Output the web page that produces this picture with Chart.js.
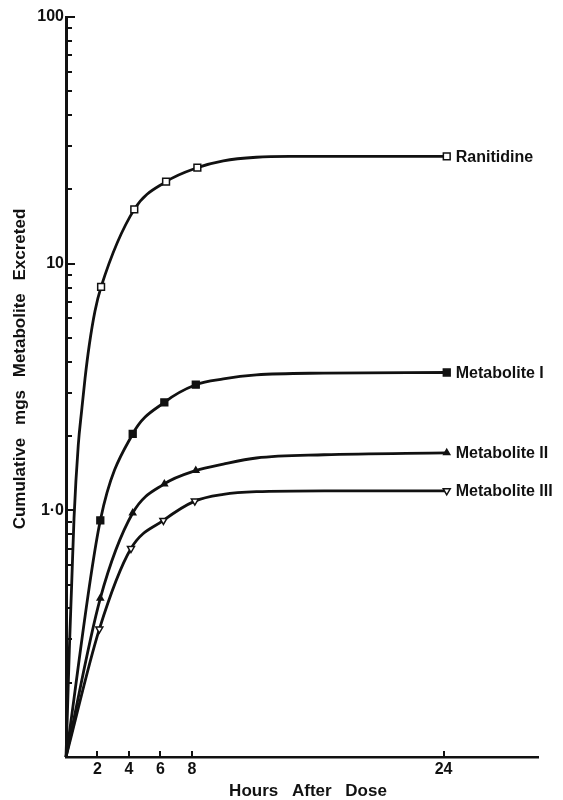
<!DOCTYPE html>
<html>
<head>
<meta charset="utf-8">
<script src="https://cdn.jsdelivr.net/npm/chart.js@4"></script>
<style>
  html, body { margin: 0; padding: 0; background: #fff; }
  #wrap { width: 563px; height: 800px; }
</style>
</head>
<body>
<div id="wrap"><canvas id="chart"></canvas></div>
<script>
// Data (hours after dose, cumulative mg excreted)
// sampled = 1 where the figure shows a marker, 0 where the point just traces the curve
var seriesNames = ['Ranitidine', 'Metabolite I', 'Metabolite II', 'Metabolite III'];

var ranitidineHours = [0, 0.08, 0.21, 0.36, 0.51, 0.78, 0.99, 1.21, 1.48, 1.84, 2.23, 4.34, 6.36, 8.35, 10.0, 12.1, 14.2, 24.2];
var ranitidineMg = [0.1, 0.144, 0.27, 0.50, 0.93, 1.84, 2.52, 3.43, 4.68, 6.41, 8.05, 16.6, 21.5, 24.5, 26.1, 27.0, 27.2, 27.2];
var ranitidineSampled = [0, 0, 0, 0, 0, 0, 0, 0, 0, 0, 1, 1, 1, 1, 0, 0, 0, 1];

var metab1Hours = [0, 2.18, 4.24, 6.25, 8.25, 10.0, 12.1, 16.4, 24.2];
var metab1Mg = [0.1, 0.91, 2.04, 2.74, 3.23, 3.41, 3.54, 3.60, 3.62];
var metab1Sampled = [0, 1, 1, 1, 1, 0, 0, 0, 1];

var metab2Hours = [0, 2.18, 4.24, 6.25, 8.25, 10.0, 12.1, 16.4, 24.2];
var metab2Mg = [0.1, 0.44, 0.975, 1.28, 1.45, 1.54, 1.63, 1.68, 1.71];
var metab2Sampled = [0, 1, 1, 1, 1, 0, 0, 0, 1];

var metab3Hours = [0, 2.12, 4.13, 6.19, 8.19, 10.0, 12.1, 16.4, 24.2];
var metab3Mg = [0.1, 0.33, 0.70, 0.91, 1.09, 1.16, 1.19, 1.20, 1.20];
var metab3Sampled = [0, 1, 1, 1, 1, 0, 0, 0, 1];

// Axis ticks
var xTickValues = [2, 4, 6, 8, 24];
var yTickValues = [0.1, 0.2, 0.3, 0.4, 0.5, 0.6, 0.7, 0.8, 0.9,
  1, 2, 3, 4, 5, 6, 7, 8, 9,
  10, 20, 30, 40, 50, 60, 70, 80, 90, 100];
var yLabelValues = [1, 10, 100];
var yLabelText = ['1·0', '10', '100'];

var xTitle = 'Hours After Dose';
var yTitle = 'Cumulative mgs Metabolite Excreted';

var FONT = '"Liberation Sans", Arial, sans-serif';
var INK = '#111';

function toPoints(hours, mg) {
  return hours.map((h, i) => ({ x: h, y: mg[i] }));
}

function makeDataset(i, hours, mg, sampled, style, fill, radius, rotation) {
  return {
    label: seriesNames[i],
    data: toPoints(hours, mg),
    borderColor: INK,
    borderWidth: 2.8,
    fill: false,
    cubicInterpolationMode: 'monotone',
    clip: false,
    pointStyle: style,
    rotation: rotation || 0,
    pointRadius: (ctx) => sampled[ctx.dataIndex] ? radius : 0,
    pointBackgroundColor: fill,
    pointBorderColor: INK,
    pointBorderWidth: 1.5
  };
}

// tick marks drawn inward from the axes, plus axis titles
var axisDecor = {
  id: 'axisDecor',
  afterDraw(chart) {
    var ctx = chart.ctx;
    var area = chart.chartArea;
    var yScale = chart.scales.y;
    var xScale = chart.scales.x;
    ctx.save();
    ctx.strokeStyle = INK;
    ctx.lineWidth = 2;
    yScale.ticks.forEach(t => {
      var py = Math.round(yScale.getPixelForValue(t.value));
      var len = yLabelValues.includes(t.value) ? 9 : 6;
      ctx.beginPath();
      ctx.moveTo(area.left, py);
      ctx.lineTo(area.left + len, py);
      ctx.stroke();
    });
    xScale.ticks.forEach(t => {
      var px = Math.round(xScale.getPixelForValue(t.value));
      ctx.beginPath();
      ctx.moveTo(px, area.bottom);
      ctx.lineTo(px, area.bottom - 6);
      ctx.stroke();
    });

    ctx.fillStyle = INK;
    ctx.font = 'bold 17px ' + FONT;
    ctx.textAlign = 'center';
    ctx.textBaseline = 'middle';
    ctx.wordSpacing = '9px';
    ctx.fillText(xTitle, (area.left + area.right) / 2 + 6, 791);
    ctx.translate(20, 369);
    ctx.rotate(-Math.PI / 2);
    ctx.wordSpacing = '8px';
    ctx.fillText(yTitle, 0, 0);
    ctx.restore();
  }
};

// series names written just right of each curve's last point
var endLabels = {
  id: 'endLabels',
  afterDatasetsDraw(chart) {
    var ctx = chart.ctx;
    ctx.save();
    ctx.fillStyle = INK;
    ctx.font = 'bold 16px ' + FONT;
    ctx.textAlign = 'left';
    ctx.textBaseline = 'middle';
    chart.data.datasets.forEach((ds, i) => {
      var meta = chart.getDatasetMeta(i);
      var last = meta.data[meta.data.length - 1];
      ctx.fillText(seriesNames[i], last.x + 9, last.y + 1);
    });
    ctx.restore();
  }
};

var ctx = document.getElementById('chart').getContext('2d');
new Chart(ctx, {
  type: 'line',
  data: {
    datasets: [
      makeDataset(0, ranitidineHours, ranitidineMg, ranitidineSampled, 'rect', '#fff', 4.8),
      makeDataset(1, metab1Hours, metab1Mg, metab1Sampled, 'rect', INK, 4.8),
      makeDataset(2, metab2Hours, metab2Mg, metab2Sampled, 'triangle', INK, 3.5),
      makeDataset(3, metab3Hours, metab3Mg, metab3Sampled, 'triangle', '#fff', 4, 180)
    ]
  },
  options: {
    responsive: true,
    maintainAspectRatio: false,
    animation: false,
    layout: { padding: { top: 17, right: 25, bottom: 0, left: 0 } },
    plugins: {
      legend: { display: false },
      tooltip: { enabled: false }
    },
    scales: {
      x: {
        type: 'linear',
        min: 0,
        max: 30,
        afterBuildTicks: (scale) => { scale.ticks = xTickValues.map(v => ({ value: v })); },
        afterFit: (scale) => { scale.height = 43; },
        grid: { display: true, drawOnChartArea: false, drawTicks: false },
        border: { display: true, color: INK, width: 2.5 },
        ticks: {
          color: INK,
          padding: 3,
          maxRotation: 0,
          autoSkip: false,
          font: { family: FONT, size: 16, weight: 'bold' }
        }
      },
      y: {
        type: 'logarithmic',
        min: 0.1,
        max: 100,
        afterBuildTicks: (scale) => { scale.ticks = yTickValues.map(v => ({ value: v })); },
        afterFit: (scale) => { scale.width = 66; },
        grid: { display: true, drawOnChartArea: false, drawTicks: false },
        border: { display: true, color: INK, width: 3 },
        ticks: {
          color: INK,
          padding: 2,
          autoSkip: false,
          font: { family: FONT, size: 16, weight: 'bold' },
          callback: (value) => {
            var k = yLabelValues.indexOf(value);
            return k >= 0 ? yLabelText[k] : '';
          }
        }
      }
    }
  },
  plugins: [axisDecor, endLabels]
});
</script>
</body>
</html>
